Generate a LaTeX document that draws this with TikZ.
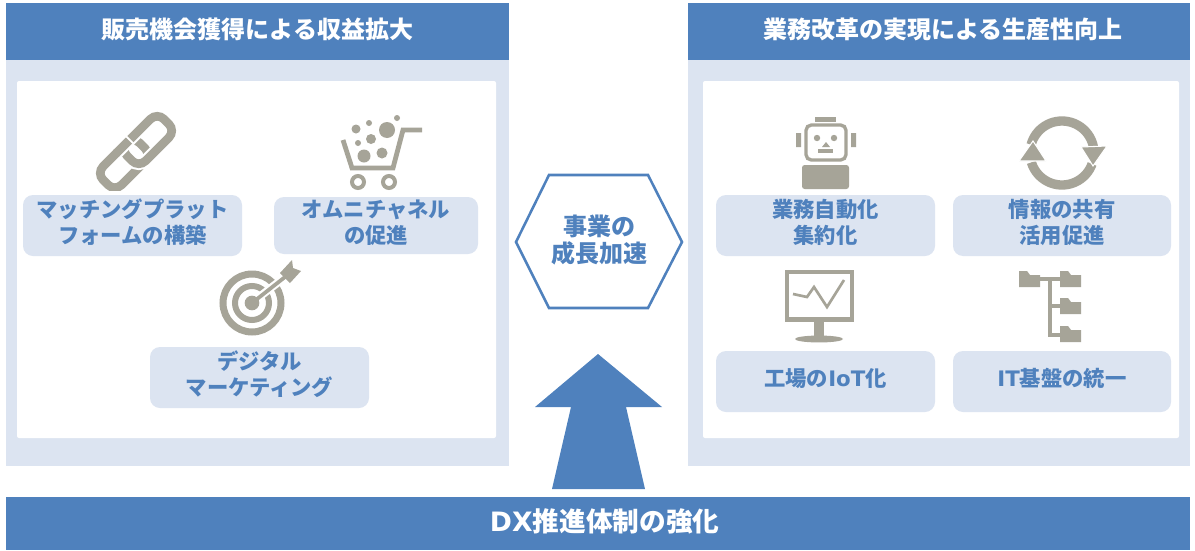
\documentclass[tikz,border=0pt]{standalone}
\usepackage{fontspec}
\setmainfont{Noto Sans CJK JP}
\newfontfamily\latn{DejaVu Sans}
\definecolor{dxblue}{HTML}{4F81BD}
\definecolor{dxpale}{HTML}{DCE4F1}
\definecolor{dxgray}{HTML}{A6A498}
\tikzset{
	header/.style={fill=dxblue,text=white,inner sep=0pt,text depth=5pt,font=\fontsize{18}{22}\selectfont\bfseries},
	panel/.style={fill=dxpale,inner sep=0pt},
	sheet/.style={fill=white,rounded corners=1.5pt,inner sep=0pt},
	pill/.style={fill=dxpale,rounded corners=7.5pt,inner sep=0pt,text depth=6pt,text=dxblue,align=center,font=\fontsize{16}{19.5}\selectfont\bfseries},
	iconline/.style={draw=dxgray,line width=#1}
}
\begin{document}
\begin{tikzpicture}[x=0.75pt,y=-0.75pt]
\useasboundingbox (0,0) rectangle (1195,550);
% panels
\foreach \nm/\cx/\bw/\sx/\sw in {left/257.5/503/256.5/479,right/939/502/941/476}{
	\node[panel,minimum width=\bw*0.75pt,minimum height=304.5pt] (\nm body) at (\cx,263) {};
	\node[sheet,minimum width=\sw*0.75pt,minimum height=267.75pt] (\nm sheet) at (\sx,259.5) {};}
\node[header,minimum width=377.25pt,minimum height=42.75pt] (lefthead) at (257.5,31.5) {販売機会獲得による収益拡大};
\node[header,minimum width=376.5pt,minimum height=42.75pt] (righthead) at (939,31.5) {\hspace*{6pt}業務改革の実現による生産性向上};
\node[header,minimum width=888pt,minimum height=39.75pt,font=\fontsize{20}{24}\selectfont\bfseries] (dxbar) at (598,523.5) {\hspace*{10pt}{\latn\bfseries DX}推進体制の強化};
% labels
\foreach \nm/\cx/\cy/\bw/\bh/\txt in {
	match/132.5/225.5/219/61/{マッチングプラット\\フォームの構築},
	omni/376/225.5/204/57/{オムニチャネル\\の促進},
	market/259.5/377.5/219/61/{デジタル\\マーケティング},
	auto/825.5/225.5/219/61/{業務自動化\\集約化},
	share/1062/225.5/218/61/{情報の共有\\活用促進},
	iot/825.5/381.5/219/61/{工場の{\latn\bfseries IoT}化},
	base/1062/381.5/218/61/{{\latn\bfseries IT}基盤の統一}}{
	\node[pill,minimum width=\bw*0.75pt,minimum height=\bh*0.75pt] (\nm) at (\cx,\cy) {\txt};}
% growth hexagon and arrow
\draw[draw=dxblue,line width=1.9pt,fill=white] (516,242) -- (549,175) -- (648,175) -- (682,242) -- (648,308) -- (549,308) -- cycle;
\node[text=dxblue,align=center,inner sep=0pt,font=\fontsize{18}{20}\selectfont\bfseries] (growth) at (599,240) {事業の\\成長加速};
\fill[dxblue] (598,354) -- (662,407) -- (626,407) -- (645,489) -- (552,489) -- (571,407) -- (535,407) -- cycle;
% link
\begin{scope}
\clip (90,110) rectangle (180,190);
\draw[iconline=6.5pt,rounded corners=7pt,rotate around={45:(124,164)}] (98,151) rectangle (150,177);
\draw[white,line width=9.5pt,rounded corners=7pt,rotate around={45:(148,140)}] (122,127) rectangle (174,153);
\draw[iconline=6.5pt,rounded corners=7pt,rotate around={45:(148,140)}] (122,127) rectangle (174,153);
\draw[white,line width=9.5pt,rotate around={45:(124,164)}] (128,151) -- (146,151);
\draw[iconline=6.5pt,rotate around={45:(124,164)}] (126,151) -- (144,151);
\end{scope}
% cart
\draw[iconline=3.6pt] (343,140) -- (352,168) -- (393,168) -- (403,130) -- (422,130);
\foreach \cx/\cy/\rad in {356/129/4.5,369/123/3,387/130/8,397/118/3,371/139/5,358/143/3,364/156/6.5,382/153/5.5}{
	\fill[dxgray] (\cx,\cy) circle (\rad*0.75pt);}
\foreach \cx in {358,389}{
	\draw[iconline=3pt] (\cx,182) circle (4.5pt);}
% target
\draw[iconline=5.25pt] (252,303) circle (21.75pt);
\draw[iconline=4.5pt] (252,303) circle (12.75pt);
\fill[dxgray] (252,303) circle (5.5pt);
\draw[white,line width=6pt] (258,298) -- (285,277);
\draw[iconline=2.8pt] (252,303) -- (285,277);
\fill[dxgray] (280,273) -- (292,260) -- (293,268) -- (301,271) -- (290,283) -- cycle;
% robot
\fill[dxgray] (815,117) rectangle (836,122);
\draw[iconline=2.5pt,rounded corners=4pt] (806,125) rectangle (846,160);
\fill[dxgray] (796,133) rectangle (801,147) (851,133) rectangle (856,147);
\fill[dxgray] (817,138) circle (2.4pt) (834,138) circle (2.4pt);
\fill[dxgray] (826,142) -- (830,147) -- (822,147) -- cycle;
\fill[dxgray] (818,149) rectangle (833,153);
\fill[dxgray,rounded corners=2pt] (802,189) -- (802,165) -- (849,165) -- (849,189) -- cycle;
% sync
\draw[iconline=7pt,domain=10:165,samples=30] plot ({1062+32*cos(\x)},{153-32*sin(\x)});
\draw[iconline=7pt,domain=197:340,samples=30] plot ({1062+32*cos(\x)},{153-32*sin(\x)});
\filldraw[fill=dxgray,draw=white,line width=0.8pt] (1081,147) -- (1107,146) -- (1093,166) -- cycle;
\filldraw[fill=dxgray,draw=white,line width=0.8pt] (1019,161) -- (1046,161) -- (1033,141) -- cycle;
% monitor
\draw[iconline=2.5pt] (787,272) rectangle (852,320);
\fill[dxgray] (786,317) rectangle (853,322);
\fill[dxgray] (814,322) rectangle (824,337);
\fill[dxgray] (819,339) ellipse (18pt and 2.6pt);
\draw[iconline=2pt] (793,294) -- (807,297) -- (814,287) -- (827,307) -- (844,280);
% folders
\draw[iconline=2.5pt] (1040,279) -- (1060,279) (1050,279) -- (1050,335) -- (1060,335) (1050,306) -- (1060,306);
\foreach \fx/\fy in {1019/271,1060/271,1060/298,1060/326}{
	\fill[dxgray] (\fx,\fy) -- (\fx+8,\fy) -- (\fx+11,\fy+4) -- (\fx+21,\fy+4) -- (\fx+21,\fy+16) -- (\fx,\fy+16) -- cycle;}
\end{tikzpicture}
\end{document}
